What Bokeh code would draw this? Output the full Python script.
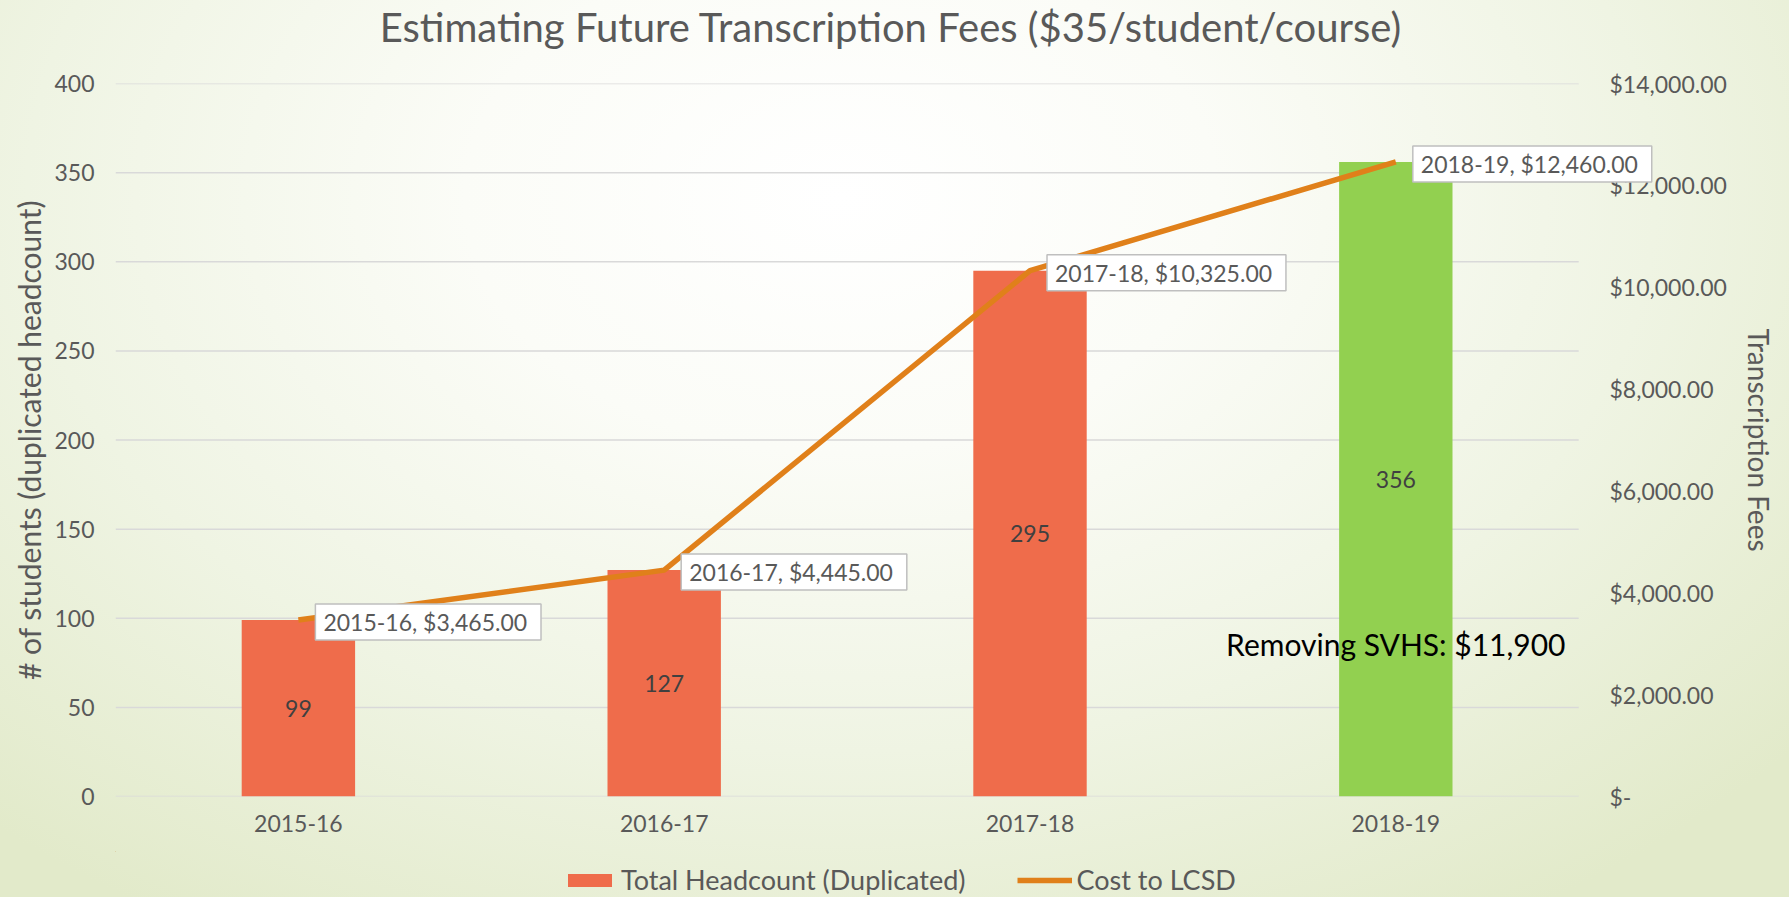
from bokeh.plotting import figure
from bokeh.layouts import column
from bokeh.models import (ColumnDataSource, Range1d, LinearAxis, FixedTicker,
                          Legend, LegendItem, Label, LabelSet, Title)
from bokeh.core.properties import value
from bokeh.embed import file_html
from bokeh.resources import INLINE

# ---------------- data ----------------
years = ["2015-16", "2016-17", "2017-18", "2018-19"]
headcount = [99, 127, 295, 356]
cost = [3465, 4445, 10325, 12460]
bar_colors = ["#EF6C4B", "#EF6C4B", "#EF6C4B", "#92D050"]
left_ticks = [0, 50, 100, 150, 200, 250, 300, 350, 400]
right_ticks = [0, 2000, 4000, 6000, 8000, 10000, 12000, 14000]
right_tick_labels = ["$-", "$2,000.00", "$4,000.00", "$6,000.00", "$8,000.00",
                     "$10,000.00", "$12,000.00", "$14,000.00"]
title_text = "Estimating Future Transcription Fees ($35/student/course)"
left_title = "# of students (duplicated headcount)"
right_title = "Transcription Fees"
series_names = ["Total Headcount (Duplicated)", "Cost to LCSD"]
note_text = "Removing SVHS: $11,900"

FONT = "Lato"
GRAY = "#595959"
LINE_COLOR = "#E0801A"
X_END = 4.24          # extra room right of the last category for its callout
BG = ("radial-gradient(ellipse 70% 95% at 47% 22%, #ffffff 0%, #fbfcf7 30%, "
      "#eff4e3 65%, #e2eaca 100%)")

xpos = [i + 0.5 for i in range(len(years))]
src = ColumnDataSource(dict(
    x=xpos,
    year=years,
    count=headcount,
    mid=[h / 2 for h in headcount],
    count_str=[str(h) for h in headcount],
    cost=cost,
    color=bar_colors,
))

p = figure(width=1789, height=851,
           x_range=Range1d(0, X_END),
           y_range=Range1d(left_ticks[0], left_ticks[-1]),
           output_backend="svg", toolbar_location=None,
           min_border_left=115, min_border_right=123,
           min_border_top=82, min_border_bottom=55)
p.extra_y_ranges = {"fees": Range1d(right_ticks[0], right_ticks[-1])}

p.background_fill_color = None
p.border_fill_color = None
p.outline_line_color = None

# titles (a thin spacer title sits between the real title and the frame)
p.add_layout(Title(text=" ", text_font_size="2px", standoff=29), "above")
p.add_layout(Title(text=title_text, align="center", vertical_align="bottom",
                   text_font=FONT, text_font_size="40px", text_font_style="normal",
                   text_color=GRAY, standoff=0), "above")

# grid drawn as segments across the category area only
p.xgrid.visible = False
p.ygrid.visible = False
p.segment(x0=[0] * len(left_ticks), x1=[len(years)] * len(left_ticks),
          y0=left_ticks, y1=left_ticks, line_color="#D9D9D9", line_width=1.5)

# left axis
ya = p.yaxis[0]
ya.ticker = FixedTicker(ticks=left_ticks)
ya.axis_line_color = None
ya.major_tick_line_color = None
ya.minor_tick_line_color = None
ya.major_tick_out = 0
ya.major_tick_in = 0
ya.minor_tick_out = 0
ya.major_label_standoff = 21
ya.major_label_text_font = FONT
ya.major_label_text_font_size = "23px"
ya.major_label_text_color = GRAY
ya.axis_label = left_title
ya.axis_label_text_font = FONT
ya.axis_label_text_font_size = "30px"
ya.axis_label_text_font_style = "normal"
ya.axis_label_text_color = GRAY
ya.axis_label_standoff = 4

# right axis
ra = LinearAxis(y_range_name="fees", ticker=FixedTicker(ticks=right_ticks),
                major_label_overrides=dict(zip(right_ticks, right_tick_labels)))
ra.axis_line_color = None
ra.major_tick_line_color = None
ra.minor_tick_line_color = None
ra.major_tick_out = 0
ra.major_tick_in = 0
ra.minor_tick_out = 0
ra.major_label_standoff = -57
ra.major_label_text_font = FONT
ra.major_label_text_font_size = "23px"
ra.major_label_text_color = GRAY
ra.axis_label = right_title
ra.axis_label_text_font = FONT
ra.axis_label_text_font_size = "28px"
ra.axis_label_text_font_style = "normal"
ra.axis_label_text_color = GRAY
ra.axis_label_standoff = 12
p.add_layout(ra, "right")

# x axis
xa = p.xaxis[0]
xa.ticker = FixedTicker(ticks=xpos)
xa.major_label_overrides = dict(zip(xpos, years))
xa.axis_line_color = None
xa.major_tick_line_color = None
xa.minor_tick_line_color = None
xa.major_tick_out = 0
xa.major_tick_in = 0
xa.minor_tick_out = 0
xa.major_label_standoff = 18
xa.major_label_text_font = FONT
xa.major_label_text_font_size = "23px"
xa.major_label_text_color = GRAY

# bars
bars = p.vbar(x="x", top="count", width=0.31, source=src,
              fill_color="color", line_color=None)

# line
line = p.line(x="x", y="cost", y_range_name="fees", source=src,
              line_width=5.5, line_color=LINE_COLOR)

# bar value labels
p.add_layout(LabelSet(x="x", y="mid", text="count_str", source=src,
                      text_align="center", text_baseline="middle",
                      text_font=value(FONT), text_font_size="23px",
                      text_color="#404040"))

# removing SVHS note
p.text(x=[xpos[3]], y=[85.5], text=[note_text], text_font=value(FONT),
       text_font_size="30px", text_color="black",
       text_align="center", text_baseline="middle")

# callout data labels on line
for xv, yr, c in zip(xpos, years, cost):
    p.add_layout(Label(x=xv, y=c, y_range_name="fees",
                       text=f"{yr},  ${c:,.2f}",
                       x_offset=17, y_offset=-2,
                       text_align="left", text_baseline="middle",
                       text_font=FONT, text_font_size="23px", text_color=GRAY,
                       background_fill_color="white",
                       border_line_color="#BFBFBF", border_line_width=1.5,
                       padding=dict(left=8, right=8, top=4, bottom=4)))

# legend strip (separate figure below the chart, same series styles; its view
# ranges are placed away from the data so only the legend is seen)
lf = figure(width=1789, height=46, x_range=Range1d(100, 101), y_range=Range1d(-101, -100),
            output_backend="svg", toolbar_location=None,
            x_axis_location=None, y_axis_location=None, min_border=0)
lf.background_fill_color = None
lf.border_fill_color = None
lf.outline_line_color = None
lf.xgrid.visible = False
lf.ygrid.visible = False
leg_bar = lf.vbar(x="x", top="count", width=0.31, source=src,
                  fill_color="color", line_color=None)
leg_line = lf.line(x="x", y="cost", source=src, line_width=5.5, line_color=LINE_COLOR)
legend = Legend(items=[LegendItem(label=series_names[0], renderers=[leg_bar], index=0),
                       LegendItem(label=series_names[1], renderers=[leg_line])],
                orientation="horizontal", location=(447, 1),
                background_fill_alpha=0, border_line_color=None,
                glyph_width=55, glyph_height=16, label_standoff=4,
                spacing=52, padding=0, margin=0,
                label_text_font=FONT, label_text_font_size="27px",
                label_text_color=GRAY)
lf.add_layout(legend, "center")

layout = column(p, lf, spacing=0)
layout.styles = {"background": BG}

open("out.html", "w").write(file_html(layout, INLINE))
